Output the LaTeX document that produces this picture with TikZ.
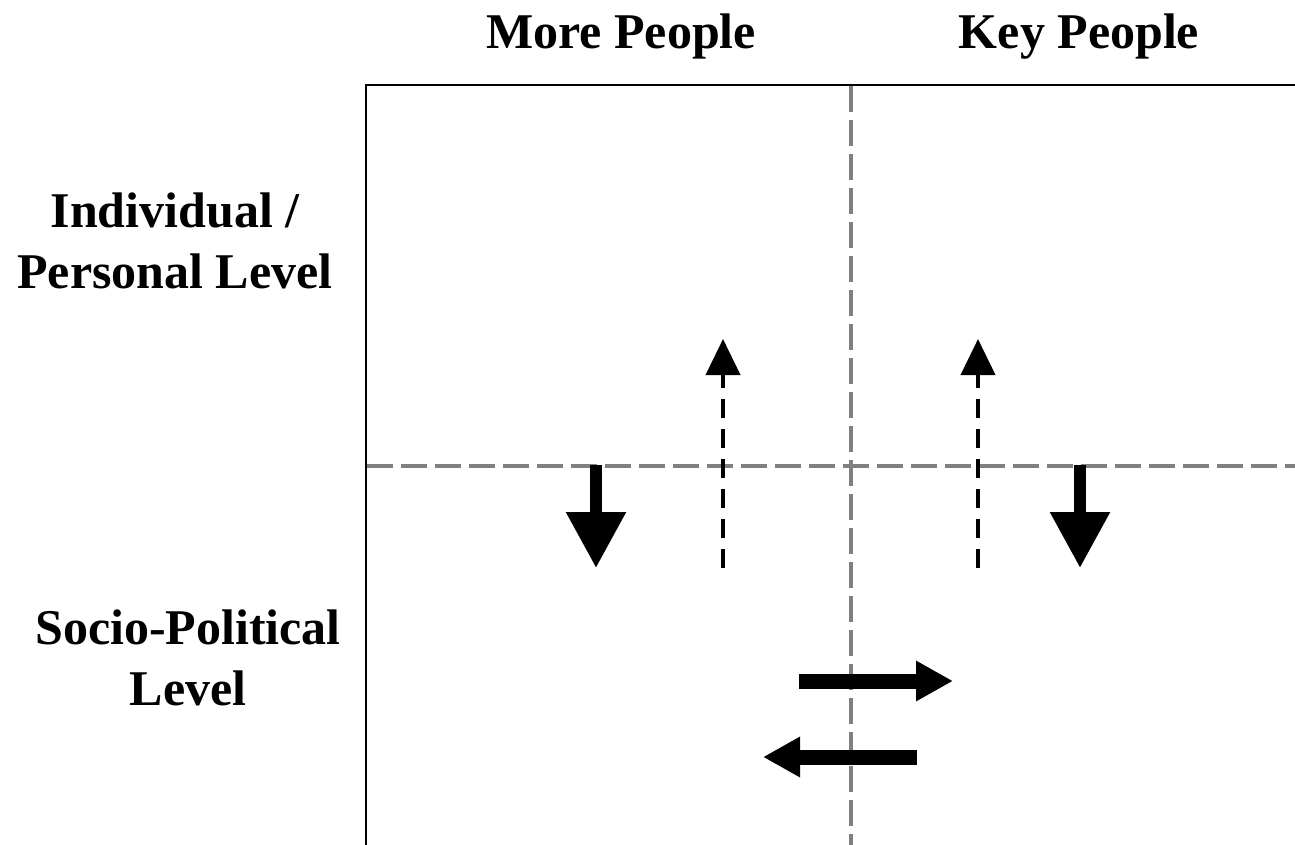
\documentclass[tikz,border=0pt]{standalone}
\usepackage{fontspec}
\setmainfont{Liberation Serif}
\usetikzlibrary{arrows.meta}
\tikzset{
  lbl/.style={font=\bfseries\fontsize{25}{30.5}\selectfont, inner sep=0pt, align=center, anchor=base},
  frame/.style={line width=1pt, black},
  divider/.style={line width=2pt, gray, dash pattern=on 13pt off 4pt},
  thinflow/.style={line width=2pt, black, dash pattern=on 9.5pt off 5.5pt,
     -{Triangle[length=18pt,width=17pt]}},
  vflow/.style={line width=6pt, black, -{Triangle[length=28pt,width=28.5pt]}},
  hflow/.style={line width=7.5pt, black, -{Triangle[length=18.5pt,width=19pt]}}
}
\begin{document}
\begin{tikzpicture}[x=0.5pt,y=-0.5pt]
\useasboundingbox (0,0) rectangle (1295,845);
\fill[white] (0,0) rectangle (1295,845);
\clip (0,0) rectangle (1295,845);
% frame
\coordinate (tl) at (366,85);
\coordinate (tr) at (1310,85);
\coordinate (bl) at (366,860);
\draw[frame] (tr) -- (tl) -- (bl);
% dividers
\coordinate (vt) at (851,86);
\coordinate (vb) at (851,860);
\coordinate (hl) at (367,466);
\coordinate (hr) at (1310,466);
\draw[divider] (vt) -- (vb);
\draw[divider] (hl) -- (hr);
% labels
\node[lbl] (more) at (621,49) {More People};
\node[lbl] (key) at (1079,49) {Key People};
\node[lbl] (indiv) at (175,288) {Individual /\\Personal Level};
\node[lbl] (socio) at (188,705) {Socio-Political\\Level};
% arrow end points
\coordinate (d1s) at (596,465);
\coordinate (d1e) at (596,568);
\coordinate (d2s) at (1080,465);
\coordinate (d2e) at (1080,568);
\coordinate (u1s) at (723,568);
\coordinate (u1e) at (723,339);
\coordinate (u2s) at (978,568);
\coordinate (u2e) at (978,339);
\coordinate (r1s) at (799,681);
\coordinate (r1e) at (953,681);
\coordinate (l1s) at (917,757);
\coordinate (l1e) at (763,757);
\draw[vflow] (d1s) -- (d1e);
\draw[vflow] (d2s) -- (d2e);
\draw[thinflow] (u1s) -- (u1e);
\draw[thinflow] (u2s) -- (u2e);
\draw[hflow] (r1s) -- (r1e);
\draw[hflow] (l1s) -- (l1e);
\end{tikzpicture}
\end{document}
